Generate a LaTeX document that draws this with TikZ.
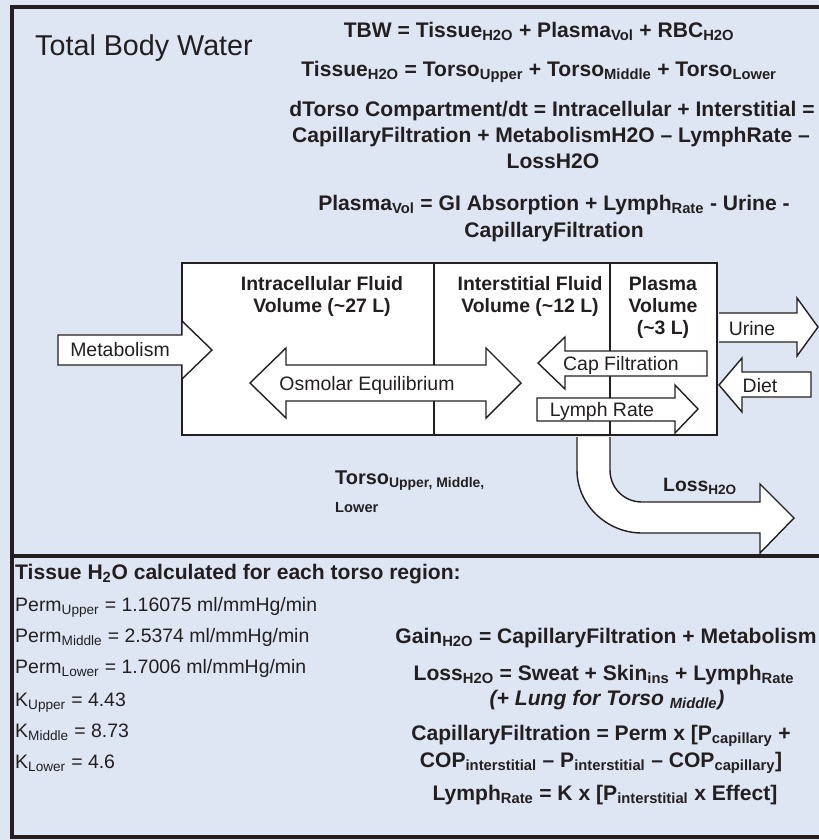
\documentclass[tikz,border=0pt]{standalone}
\usepackage{fontspec}
\setmainfont{Liberation Sans}
\definecolor{bgblue}{RGB}{223,230,243}
\definecolor{ink}{RGB}{35,31,32}
\newcommand{\subtxt}[1]{\textsubscript{#1}}

\begin{document}
\begin{tikzpicture}[x=0.03cm,y=-0.03cm,
  frame/.style={draw=ink,line width=2.8pt},
  wall/.style={draw=ink,line width=2.3pt},
  blockarrow/.style={draw=ink,fill=white,line width=1.2pt},
  eqn/.style={text=ink,inner sep=0pt,font=\fontsize{18}{22}\selectfont\bfseries},
  boxtitle/.style={text=ink,inner sep=0pt,align=center,font=\fontsize{16.6}{18.8}\selectfont\bfseries},
  lbl/.style={text=ink,inner sep=0pt,font=\fontsize{16.6}{20}\selectfont}]
\fill[bgblue] (0,0) rectangle (819,840);
\useasboundingbox (0,0) rectangle (819,840);
% frame
\draw[frame] (819,7) -- (12,7) -- (12,837) -- (819,837);
\draw[frame] (12,556) -- (819,556);
% compartments
\draw[wall,fill=white] (182,263) rectangle (717,435);
\draw[wall] (434,263) -- (434,435);
\draw[wall] (610,263) -- (610,435);
% flows
\draw[blockarrow] (58,335) -- (182,335) -- (182,321) -- (212,350) -- (182,379) -- (182,365) -- (58,365) -- cycle;
\draw[blockarrow] (250,383) -- (286,348) -- (286,365) -- (486,365) -- (486,348) -- (521,383) -- (486,418) -- (486,401) -- (286,401) -- (286,418) -- cycle;
\draw[blockarrow] (538,363) -- (565,337) -- (565,351) -- (707,351) -- (707,376) -- (565,376) -- (565,389) -- cycle;
\draw[blockarrow] (537,398) -- (675,398) -- (675,385) -- (698,409) -- (675,433) -- (675,421) -- (537,421) -- cycle;
\draw[blockarrow] (719,313) -- (797,313) -- (797,298) -- (818,327) -- (797,356) -- (797,342) -- (719,342);
\draw[blockarrow] (719,385) -- (742,358) -- (742,372) -- (811,372) -- (811,397) -- (742,397) -- (742,412) -- cycle;
\draw[blockarrow] (577,437) -- (577,470) .. controls (577,505) and (607,533) .. (642,533) -- (760,533) -- (760,553) -- (794,518) -- (760,484) -- (760,502) -- (642,502) .. controls (624,502) and (610,488) .. (610,470) -- (610,437);
% top text
\node[lbl,anchor=base west,font=\fontsize{24.5}{28}\selectfont] (tbwtitle) at (35,55) {Total Body Water};
\node[eqn,anchor=base] (eqtbw) at (539,37) {TBW = Tissue\subtxt{H2O} + Plasma\subtxt{Vol} + RBC\subtxt{H2O}};
\node[eqn,anchor=base] (eqtissue) at (539,76) {Tissue\subtxt{H2O} = Torso\subtxt{Upper} + Torso\subtxt{Middle} + Torso\subtxt{Lower}};
\node[eqn,anchor=base] (eqdt1) at (552,116) {dTorso Compartment/dt = Intracellular + Interstitial =};
\node[eqn,anchor=base] (eqdt2) at (551,142) {CapillaryFiltration + MetabolismH2O – LymphRate –};
\node[eqn,anchor=base] (eqdt3) at (553,168) {LossH2O};
\node[eqn,anchor=base] (eqpv1) at (554,210) {Plasma\subtxt{Vol} = GI Absorption + Lymph\subtxt{Rate} - Urine -};
\node[eqn,anchor=base] (eqpv2) at (554,237) {CapillaryFiltration};
% compartment names
\node[boxtitle] (icf) at (322,296) {Intracellular Fluid\\Volume (\textasciitilde27 L)};
\node[boxtitle] (isf) at (530,296) {Interstitial Fluid\\Volume (\textasciitilde12 L)};
\node[boxtitle] (pv) at (663,307) {Plasma\\Volume\\(\textasciitilde3 L)};
% flow names
\node[lbl,anchor=base] (metab) at (120,356) {Metabolism};
\node[lbl,anchor=base] (osmo) at (367,390) {Osmolar Equilibrium};
\node[lbl,anchor=base] (capf) at (621,370) {Cap Filtration};
\node[lbl,anchor=base] (lymph) at (602,416) {Lymph Rate};
\node[lbl,anchor=base] (urine) at (752,335) {Urine};
\node[lbl,anchor=base] (diet) at (760,392) {Diet};
\node[eqn,anchor=base west,font=\fontsize{17}{20}\selectfont\bfseries] (torso) at (335,484) {Torso\subtxt{Upper, Middle,}};
\node[eqn,anchor=base west,font=\fontsize{12.5}{15}\selectfont\bfseries] (torsolow) at (335,512) {Lower};
\node[eqn,anchor=base west,font=\fontsize{16.5}{20}\selectfont\bfseries] (loss) at (663,491) {Loss\subtxt{H2O}};
% lower panel
\node[eqn,anchor=base west] (tissuehead) at (15,579) {Tissue H\subtxt{2}O calculated for each torso region:};
\node[lbl,anchor=base west] (permU) at (15,611) {Perm\subtxt{Upper} = 1.16075 ml/mmHg/min};
\node[lbl,anchor=base west] (permM) at (15,642) {Perm\subtxt{Middle} = 2.5374 ml/mmHg/min};
\node[lbl,anchor=base west] (permL) at (15,673) {Perm\subtxt{Lower} = 1.7006 ml/mmHg/min};
\node[lbl,anchor=base west] (kU) at (15,706) {K\subtxt{Upper} = 4.43};
\node[lbl,anchor=base west] (kM) at (15,737) {K\subtxt{Middle} = 8.73};
\node[lbl,anchor=base west] (kL) at (15,768) {K\subtxt{Lower} = 4.6};
\node[eqn,anchor=base] (gain) at (606,643) {Gain\subtxt{H2O} = CapillaryFiltration + Metabolism};
\node[eqn,anchor=base] (losseq) at (604,680) {Loss\subtxt{H2O} = Sweat + Skin\subtxt{ins} + Lymph\subtxt{Rate}};
\node[eqn,anchor=base] (lung) at (607,705) {\itshape (+ Lung for Torso \subtxt{Middle})};
\node[eqn,anchor=base] (capeq1) at (601,740) {CapillaryFiltration = Perm x [P\subtxt{capillary} +};
\node[eqn,anchor=base] (capeq2) at (601,767) {COP\subtxt{interstitial} – P\subtxt{interstitial} – COP\subtxt{capillary}]};
\node[eqn,anchor=base] (lymeq) at (605,800) {Lymph\subtxt{Rate} = K x [P\subtxt{interstitial} x Effect]};
\end{tikzpicture}
\end{document}
